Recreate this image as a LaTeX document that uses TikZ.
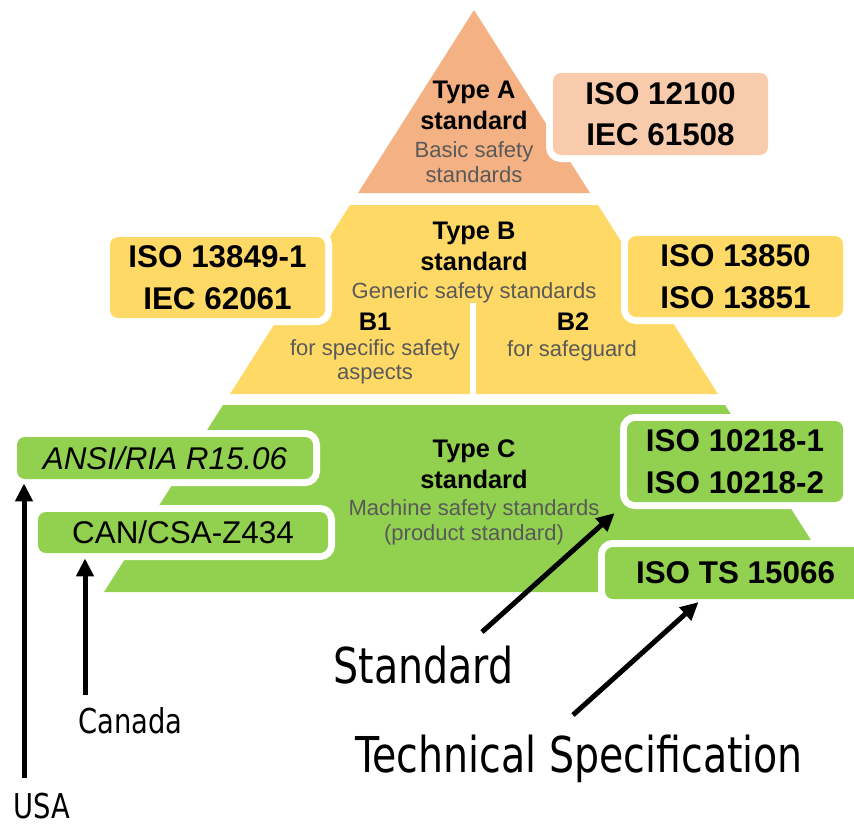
\documentclass[tikz,border=0pt]{standalone}
\usepackage{fontspec}
\setmainfont{Liberation Sans}
\newfontfamily\labelfont[FakeStretch=0.8]{DejaVu Sans}
\usetikzlibrary{arrows.meta,calc}
\definecolor{typeA}{HTML}{F4B183}
\definecolor{typeAbox}{HTML}{F8CBAD}
\definecolor{typeB}{HTML}{FFD966}
\definecolor{typeC}{HTML}{92D050}
\definecolor{subgray}{HTML}{595959}

\begin{document}
\begin{tikzpicture}[
  x=0.5pt, y=-0.5pt,
  tname/.style={font=\bfseries\fontsize{12.7}{15.5}\selectfont, align=center, inner sep=0pt},
  tsub/.style={font=\fontsize{11}{12.3}\selectfont, text=subgray, align=center, inner sep=0pt},
  stdbox/.style={rounded corners=4pt, preaction={draw=white, line width=7pt}, inner sep=0pt, align=center, font=\bfseries\fontsize{15.7}{20.8}\selectfont},
  biglbl/.style={font=\labelfont\fontsize{24.7}{28}\selectfont, inner sep=0pt, anchor=base},
  smalllbl/.style={font=\labelfont\fontsize{17.1}{20}\selectfont, inner sep=0pt, anchor=base},
  arrow/.style={-{Triangle[length=9pt,width=8.5pt]}, line width=2.5pt}
]
\useasboundingbox (0,0) rectangle (854,824);
\fill[typeA] (474,10) -- (590,193) -- (358,193) -- cycle;
\fill[typeB] (350,205) -- (598,205) -- (718,394) -- (230,394) -- cycle;
\fill[typeC] (223,405) -- (725,405) -- (844,592) -- (104,592) -- cycle;
\draw[white, line width=3pt] (473,303) -- (473,394);

\node[tname] (typeA) at (474,105) {Type A\\standard};
\node[tsub] (typeAsub) at (474,162) {Basic safety\\standards};
\node[tname] (typeB) at (474,246) {Type B\\standard};
\node[tsub, anchor=base] (typeBsub) at (474,298) {Generic safety standards};
\node[tname, anchor=base] (b1) at (375,330) {B1};
\node[tsub] (b1sub) at (375,362) {for specific safety\\aspects};
\node[tname, anchor=base] (b2) at (573,330) {B2};
\node[tsub, anchor=base] (b2sub) at (572,356) {for safeguard};
\node[tname] (typeC) at (474,464) {Type C\\standard};
\node[tsub] (typeCsub) at (474,522.5) {Machine safety standards\\(product standard)};

\node[stdbox, fill=typeAbox, minimum width=107.5pt, minimum height=41pt] (iso12100) at (660.5,114) {ISO 12100\\IEC 61508};
\node[stdbox, fill=typeB, minimum width=107.5pt, minimum height=40.5pt] (iso13849) at (217.5,277.5) {ISO 13849-1\\IEC 62061};
\node[stdbox, fill=typeB, minimum width=107.5pt, minimum height=40.5pt] (iso13850) at (735.5,276.5) {ISO 13850\\ISO 13851};
\node[stdbox, fill=typeC, minimum width=108pt, minimum height=40.5pt] (iso10218) at (735,461.5) {ISO 10218-1\\ISO 10218-2};
\node[stdbox, fill=typeC, minimum width=130.5pt, minimum height=26pt] (iso15066) at (735.5,573) {ISO TS 15066};
\node[stdbox, fill=typeC, font=\itshape\fontsize{15.7}{18}\selectfont, minimum width=148pt, minimum height=21pt] (ansi) at (165,458) {ANSI/RIA R15.06};
\node[stdbox, fill=typeC, font=\fontsize{15.7}{18}\selectfont, minimum width=145pt, minimum height=20.5pt] (csa) at (183,532.5) {CAN/CSA-Z434};

\node[biglbl] (stdlbl) at (423.5,683) {Standard};
\node[biglbl] (tslbl) at (579,772) {Technical Specification};
\node[smalllbl] (canada) at (130.5,733) {Canada};
\node[smalllbl] (usa) at (42,818) {USA};

\coordinate (usatail) at (24,778);
\coordinate (csatail) at (85,695);
\coordinate (stdtail) at (482,632);
\coordinate (tstail) at (573,715);
\draw[arrow, shorten >=2pt] (usatail) -- (usatail |- ansi.south);
\draw[arrow, shorten >=2.5pt] (csatail) -- (csatail |- csa.south);
\draw[arrow, shorten >=8pt] (stdtail) -- (iso10218.south west);
\draw[arrow, shorten >=2pt] (tstail) -- ($(iso15066.south)+(-34,0)$);
\end{tikzpicture}
\end{document}
